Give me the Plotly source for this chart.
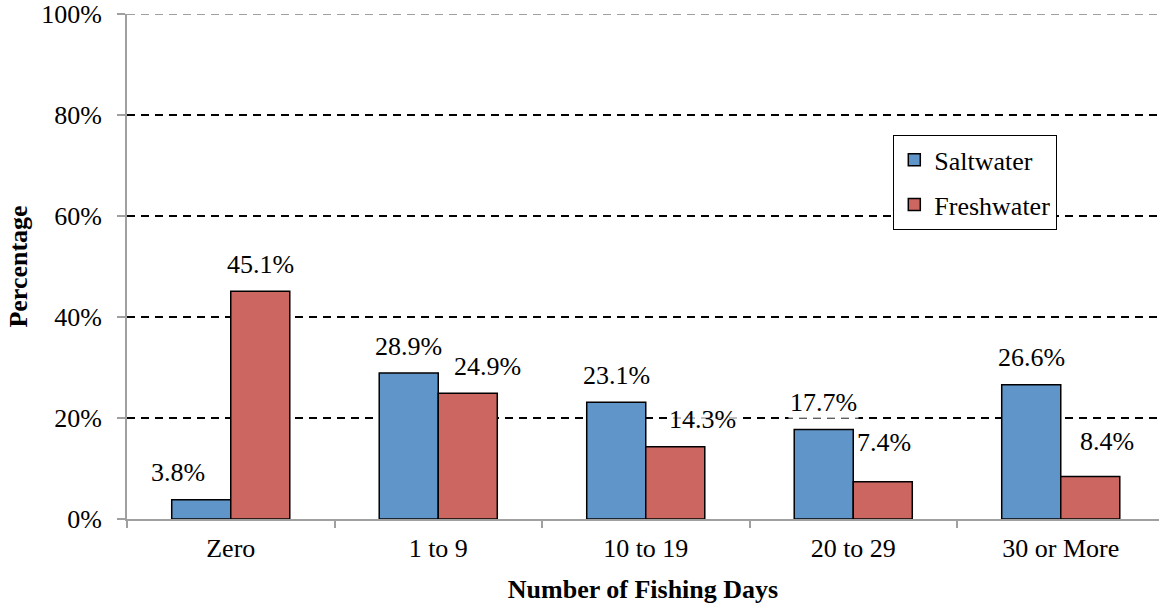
import plotly.graph_objects as go

categories = ["Zero", "1 to 9", "10 to 19", "20 to 29", "30 or More"]
saltwater = [3.8, 28.9, 23.1, 17.7, 26.6]
freshwater = [45.1, 24.9, 14.3, 7.4, 8.4]
series_names = ["Saltwater", "Freshwater"]
y_tickvals = [0, 20, 40, 60, 80, 100]
y_ticktext = ["0%", "20%", "40%", "60%", "80%", "100%"]

# label nudges (pixels) mimicking the manual placement in the original
salt_dx = [-23, 0, 0, 0, 0]
salt_dy = [0, 0, 0, 0, 0]
fresh_dx = [0, 20, 27, 1, 17]
fresh_dy = [0, 0, 0, 12, 8]

BLUE = "#6095C9"
RED = "#CC6660"
FONT = "Liberation Serif, Times New Roman, serif"
FS = 26
BARGAP = 0.431

W, H = 1159, 610
ML, MT, MB = 127, 14, 91
PW = W - ML
PH = H - MT - MB

fig = go.Figure()
fig.add_trace(go.Bar(x=categories, y=saltwater, name=series_names[0],
                     marker=dict(color=BLUE, line=dict(color="black", width=1.5)),
                     legendgroup="a"))
fig.add_trace(go.Bar(x=categories, y=freshwater, name=series_names[1],
                     marker=dict(color=RED, line=dict(color="black", width=1.5)),
                     legendgroup="b"))

off = (1 - BARGAP) / 4
anns = []
for i, (s, f) in enumerate(zip(saltwater, freshwater)):
    for val, sgn, dx, dy in ((s, -1, salt_dx[i], salt_dy[i]), (f, 1, fresh_dx[i], fresh_dy[i])):
        anns.append(dict(x=i + sgn * off, y=val, xref="x", yref="y",
                         text=f"{val:.1f}%", showarrow=False,
                         xanchor="center", yanchor="middle",
                         xshift=dx, yshift=27 + dy,
                         font=dict(family=FONT, size=FS, color="black"),
                         bgcolor="rgba(255,255,255,0.75)", borderpad=1))

fig.update_layout(
    width=W, height=H,
    margin=dict(l=ML, r=0, t=MT, b=MB, autoexpand=False),
    paper_bgcolor="white", plot_bgcolor="white",
    barmode="group", bargap=BARGAP, bargroupgap=0,
    font=dict(family=FONT, size=FS, color="black"),
    annotations=anns,
    legend=dict(x=(893 - 127) / PW, y=(519 - 135) / PH, xanchor="left", yanchor="top",
                bgcolor="white", bordercolor="black", borderwidth=1.3,
                font=dict(family=FONT, size=FS), tracegroupgap=8,
                itemwidth=30),
    shapes=[dict(type="line", xref="paper", yref="y", x0=0, x1=1, y0=100, y1=100,
                 line=dict(color="#A0A0A0", width=2, dash="8px,6px"), layer="above")],
)
fig.update_xaxes(
    type="category", range=[-0.5, -0.5 + PW / 207.5], automargin=False,
    showline=True, linecolor="#A0A0A0", linewidth=2,
    ticks="outside", tickson="boundaries", ticklen=7, tickcolor="#A0A0A0", tickwidth=2,
    showgrid=False,
    tickfont=dict(family=FONT, size=FS),
    ticklabelstandoff=5,
    title=dict(text="<b>Number of Fishing Days</b>", font=dict(family=FONT, size=FS), standoff=18),
)
fig.update_yaxes(
    range=[0, 100], tickvals=y_tickvals, ticktext=y_ticktext, automargin=False,
    showline=True, linecolor="#A0A0A0", linewidth=2,
    ticks="outside", ticklen=8, tickcolor="#A0A0A0", tickwidth=2,
    showgrid=True, gridcolor="black", gridwidth=1.5, griddash="8px,6px",
    zeroline=False, ticklabeloverflow="allow",
    tickfont=dict(family=FONT, size=FS),
    ticklabelstandoff=10,
    title=dict(text="<b>Percentage</b>", font=dict(family=FONT, size=FS), standoff=6),
)
fig.write_html("out.html", config={"displayModeBar": False},
               post_script="document.body.style.margin='0';document.body.style.padding='0';")
